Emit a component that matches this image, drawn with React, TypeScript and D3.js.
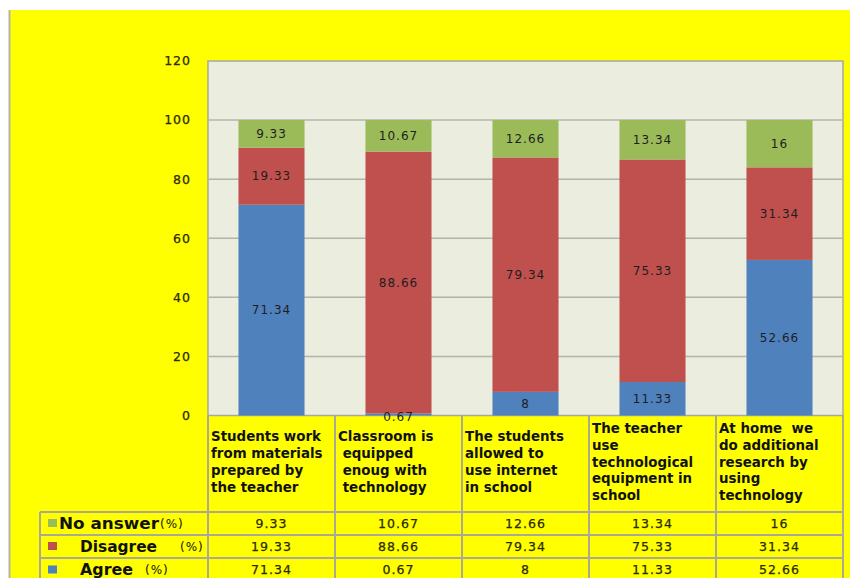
import { useEffect, useRef } from 'react';
import * as d3 from 'd3';

const categories = [
  'Students work from materials prepared by the teacher',
  'Classroom is equipped enoug with technology',
  'The students allowed to use internet in school',
  'The teacher use technological equipment in school',
  'At home  we do additional research by using technology',
];

// wrapped lines as they appear in the table header
const categoryLines = [
  ['Students work', 'from materials', 'prepared by', 'the teacher'],
  ['Classroom is', ' equipped', ' enoug with', ' technology'],
  ['The students', 'allowed to', 'use internet', 'in school'],
  ['The teacher', 'use', 'technological', 'equipment in', 'school'],
  ['At home  we', 'do additional', 'research by', 'using', 'technology'],
];

const agree = [71.34, 0.67, 8, 11.33, 52.66];
const disagree = [19.33, 88.66, 79.34, 75.33, 31.34];
const noAnswer = [9.33, 10.67, 12.66, 13.34, 16];

const yTicks = [0, 20, 40, 60, 80, 100, 120];

const seriesNames = ['No answer', 'Disagree', 'Agree'];
const seriesColors = ['#9BBB59', '#C0504D', '#4F81BD'];

export default function App() {
  const svgRef = useRef<SVGSVGElement>(null);

  useEffect(() => {
    if (!svgRef.current) return;
    const svg = d3.select(svgRef.current);
    svg.selectAll('*').remove();

    const W = 850;
    const H = 578;
    const plot = { left: 208, right: 843, top: 61, bottom: 415.5 };
    const textColor = '#2a2a08';
    const lineColor = '#a9a994';

    // background
    svg.append('rect').attr('x', 10).attr('y', 10).attr('width', W - 10).attr('height', H - 10).attr('fill', '#FFFF00');
    svg.append('line').attr('x1', 9.5).attr('x2', 9.5).attr('y1', 10).attr('y2', H)
      .attr('stroke', '#b5b5a0').attr('stroke-width', 2);

    const x = d3.scaleBand<string>().domain(categories).range([plot.left, plot.right]).padding(0);
    const y = d3.scaleLinear().domain([0, 120]).range([plot.bottom, plot.top]);
    const barW = x.bandwidth() * 0.52;

    // plot area
    svg.append('rect')
      .attr('x', plot.left).attr('y', plot.top)
      .attr('width', plot.right - plot.left).attr('height', plot.bottom - plot.top)
      .attr('fill', '#EBEDDF').attr('stroke', '#a8a8a0').attr('stroke-width', 1.5);

    // gridlines
    svg.append('g').selectAll('line')
      .data(yTicks.filter(t => t > 0 && t < 120))
      .join('line')
      .attr('x1', plot.left).attr('x2', plot.right)
      .attr('y1', d => y(d)).attr('y2', d => y(d))
      .attr('stroke', '#b4b4ac').attr('stroke-width', 1.5);

    // y axis labels
    svg.append('g').selectAll('text')
      .data(yTicks)
      .join('text')
      .attr('x', 191).attr('y', d => y(d))
      .attr('dy', '0.35em')
      .attr('text-anchor', 'end')
      .attr('font-family', 'DejaVu Sans').attr('font-size', 12.5)
      .attr('letter-spacing', 1)
      .attr('stroke', textColor).attr('stroke-width', 0.25)
      .attr('fill', textColor)
      .text(d => d);

    // stacked bars
    const rows = categories.map((c, i) => ({ cat: c, agree: agree[i], disagree: disagree[i], noAnswer: noAnswer[i] }));
    const stack = d3.stack<any>().keys(['agree', 'disagree', 'noAnswer']);
    const stacked = stack(rows);
    const colorByKey: Record<string, string> = {
      agree: seriesColors[2], disagree: seriesColors[1], noAnswer: seriesColors[0],
    };

    svg.append('g').selectAll('g')
      .data(stacked)
      .join('g')
      .attr('fill', d => colorByKey[d.key])
      .selectAll('rect')
      .data(d => d)
      .join('rect')
      .attr('x', d => (x(d.data.cat) || 0) + (x.bandwidth() - barW) / 2)
      .attr('y', d => y(d[1]))
      .attr('width', barW)
      .attr('height', d => y(d[0]) - y(d[1]));

    // data labels, drawn above every bar
    const labels = stacked.flatMap(layer => layer.map(p => ({ p, key: layer.key })));
    svg.append('g').selectAll('text')
      .data(labels)
      .join('text')
      .attr('x', d => (x(d.p.data.cat) || 0) + x.bandwidth() / 2)
      .attr('y', d => (d.p[1] - d.p[0] < 2 ? plot.bottom + 1 : y((d.p[0] + d.p[1]) / 2)))
      .attr('dy', '0.35em')
      .attr('text-anchor', 'middle')
      .attr('font-family', 'DejaVu Sans').attr('font-size', 12)
      .attr('letter-spacing', 1)
      .attr('fill', '#1e1e1e')
      .text(d => d.p.data[d.key]);

    // table
    const table = svg.append('g');
    const rowY = [512, 535, 558, 582];
    const tableLeft = 40;
    const colEdges = [plot.left, ...categories.map(c => (x(c) || 0) + x.bandwidth())];

    colEdges.forEach(cx => {
      table.append('line').attr('x1', cx).attr('x2', cx).attr('y1', plot.bottom).attr('y2', H)
        .attr('stroke', lineColor).attr('stroke-width', 2);
    });
    table.append('line').attr('x1', tableLeft).attr('x2', tableLeft).attr('y1', rowY[0]).attr('y2', H)
      .attr('stroke', lineColor).attr('stroke-width', 2);
    rowY.slice(0, 3).forEach(ry => {
      table.append('line').attr('x1', tableLeft).attr('x2', plot.right).attr('y1', ry).attr('y2', ry)
        .attr('stroke', lineColor).attr('stroke-width', 2);
    });

    // category headers
    categories.forEach((c, i) => {
      const lines = categoryLines[i];
      const lh = 16.8;
      const startY = 462 - ((lines.length - 1) * lh) / 2;
      const t = table.append('text')
        .attr('font-family', 'DejaVu Sans').attr('font-weight', 'bold').attr('font-size', 13.4)
        .attr('fill', '#111')
        .attr('xml:space', 'preserve');
      lines.forEach((ln, j) => {
        t.append('tspan')
          .attr('x', (x(c) || 0) + 3)
          .attr('y', startY + j * lh)
          .attr('dy', '0.35em')
          .text(ln);
      });
    });

    // value rows
    const rowValues = [noAnswer, disagree, agree];
    rowValues.forEach((vals, r) => {
      const cy = (rowY[r] + rowY[r + 1]) / 2;
      table.append('g').selectAll('text')
        .data(vals)
        .join('text')
        .attr('x', (d, i) => (x(categories[i]) || 0) + x.bandwidth() / 2)
        .attr('y', cy)
        .attr('dy', '0.35em')
        .attr('text-anchor', 'middle')
        .attr('font-family', 'DejaVu Sans').attr('font-size', 12.5)
        .attr('letter-spacing', 1)
        .attr('stroke', textColor).attr('stroke-width', 0.25)
        .attr('fill', textColor)
        .text(d => d);

      // legend key
      table.append('rect')
        .attr('x', 48).attr('y', cy - 4.5)
        .attr('width', 9).attr('height', 8)
        .attr('fill', seriesColors[r]);
    });

    const legendSpec = [
      { nameX: 59, nameW: 100, pctX: 160 },
      { nameX: 80, nameW: 77, pctX: 180 },
      { nameX: 80, nameW: 53, pctX: 145 },
    ];
    seriesNames.forEach((name, r) => {
      const cy = (rowY[r] + rowY[r + 1]) / 2;
      table.append('text')
        .attr('x', legendSpec[r].nameX).attr('y', cy).attr('dy', '0.35em')
        .attr('font-family', 'DejaVu Sans').attr('font-weight', 'bold').attr('font-size', 15.5)
        .attr('textLength', legendSpec[r].nameW).attr('lengthAdjust', 'spacingAndGlyphs')
        .attr('fill', '#111')
        .text(name);
      table.append('text')
        .attr('x', legendSpec[r].pctX).attr('y', cy).attr('dy', '0.35em')
        .attr('font-family', 'DejaVu Sans').attr('font-size', 12)
        .attr('letter-spacing', 1)
        .attr('fill', '#111')
        .text('(%)');
    });
  }, []);

  return (
    <div style={{ position: 'absolute', left: 0, top: 0 }}>
      <svg ref={svgRef} width={850} height={578} style={{ display: 'block' }} />
    </div>
  );
}
